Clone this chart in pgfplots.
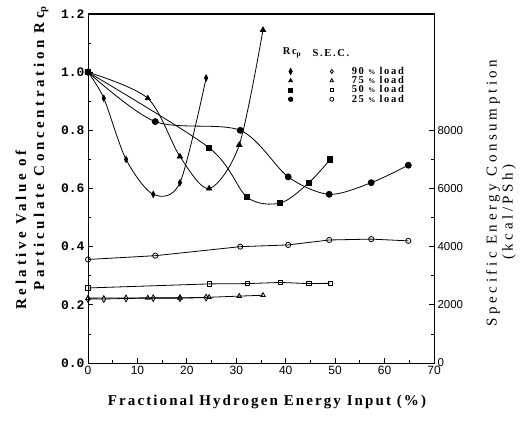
\documentclass[border=0pt]{standalone}
\usepackage{fontspec}
\setmainfont{Liberation Serif}
\usepackage{pgfplots}
\pgfplotsset{compat=1.18}
\newfontfamily\labfont[LetterSpace=14]{Liberation Serif}
\newfontfamily\labfontb[LetterSpace=24]{Liberation Serif}
\newfontfamily\legfont[LetterSpace=16]{Liberation Serif}
\newfontfamily\tickfont{Liberation Sans}
\newfontfamily\monofont{Liberation Mono}

\begin{document}
\begin{tikzpicture}
\useasboundingbox (0pt,0pt) rectangle (526pt,421pt);
\begin{axis}[
  at={(88pt,58pt)}, anchor=south west,
  width=346pt, height=349pt, scale only axis,
  axis lines=box,
  xmin=0, xmax=70, ymin=0, ymax=1.2,
  xtick={0,10,...,70}, minor xtick={5,15,...,65},
  ytick={0,0.2,...,1.2}, minor ytick={0.1,0.3,...,1.1},
  xtick pos=bottom, ytick pos=left,
  tick align=inside, major tick length=5pt, minor tick length=3pt,
  axis line style={line width=1pt}, every tick/.style={line width=0.8pt,black},
  /pgf/number format/assume math mode=true,
  yticklabel style={font=\monofont\bfseries\fontsize{13}{13}\selectfont,
    /pgf/number format/fixed, /pgf/number format/fixed zerofill, /pgf/number format/precision=1},
  xticklabel style={font=\tickfont\fontsize{12}{12}\selectfont},
  every axis plot/.append style={black, line width=0.8pt},
  clip=false,
]
\draw[line width=1.2pt] (axis cs:0,1.2) -- (axis cs:70,1.2);
% Rc_p curves (filled markers)
\addplot[smooth, mark=diamond*, mark options={scale=1.1,yscale=1.4}] coordinates {
 (0,1.0) (3.2,0.91) (7.7,0.70) (13.2,0.58) (18.6,0.62) (23.9,0.98)};
\addplot[smooth, mark=triangle*, mark size=3pt] coordinates {
 (0,1.0) (12.1,0.91) (18.6,0.71) (24.5,0.60) (30.6,0.75) (35.4,1.145)};
\addplot[smooth, mark=square*, mark size=2.6pt] coordinates {
 (0,1.0) (24.5,0.74) (32.2,0.57) (38.9,0.55) (44.7,0.62) (49.0,0.70)};
\addplot[smooth, mark=*, mark size=3pt] coordinates {
 (0,1.0) (13.6,0.83) (30.8,0.80) (40.5,0.64) (48.8,0.58) (57.3,0.62) (64.8,0.68)};
\end{axis}
\begin{axis}[
  at={(88pt,58pt)}, anchor=south west,
  width=346pt, height=349pt, scale only axis,
  xmin=0, xmax=70, ymin=0, ymax=12000,
  axis x line*=top, xtick=\empty, axis y line*=right,
  ytick={0,2000,...,8000}, minor ytick={1000,3000,5000,7000},
  scaled y ticks=false,
  tick align=inside, major tick length=5pt, minor tick length=3pt,
  axis line style={line width=1pt}, every tick/.style={line width=0.8pt,black},
  /pgf/number format/assume math mode=true,
  /pgf/number format/set thousands separator={},
  yticklabel style={font=\tickfont\fontsize{11.5}{11.5}\selectfont},
  every axis plot/.append style={black, line width=0.8pt},
  legend columns=2,
  legend style={draw=none, fill=none, at={(0.57,0.86)}, anchor=north west,
    font=\legfont\bfseries\fontsize{10.5}{10.5}\selectfont, row sep=-3.5pt,
    /tikz/every odd column/.append style={column sep=16pt},
    /tikz/every even column/.append style={column sep=17pt}},
  legend cell align=left,
  clip=false,
]
% S.E.C. (open markers)
\addplot[forget plot, mark=diamond, mark options={fill=white,yscale=1.3}, mark size=2.6pt] coordinates {
 (0,2200) (3.2,2200) (7.7,2220) (13.2,2230) (18.6,2230) (23.9,2250)};
\addplot[forget plot, mark=triangle, mark options={fill=white}, mark size=2.6pt] coordinates {
 (0,2230) (12.1,2240) (18.6,2240) (24.5,2260) (30.6,2300) (35.4,2330)};
\addplot[forget plot, mark=square, mark options={fill=white}, mark size=2.2pt] coordinates {
 (0,2580) (24.5,2720) (32.2,2730) (38.9,2770) (44.7,2730) (49.0,2740)};
\addplot[forget plot, mark=o, mark options={fill=white}, mark size=2.6pt] coordinates {
 (0,3560) (13.6,3690) (30.8,4000) (40.5,4060) (48.8,4230) (57.3,4260) (64.8,4200)};
\addlegendimage{only marks, mark=diamond*, mark options={yscale=1.4}, mark size=2.2pt}
\addlegendentry{}
\addlegendimage{only marks, mark=diamond, mark size=2pt}
\addlegendentry{90 {\fontsize{7}{7}\selectfont\%} load}
\addlegendimage{only marks, mark=triangle*, mark size=2.2pt}
\addlegendentry{}
\addlegendimage{only marks, mark=triangle, mark size=2pt}
\addlegendentry{75 {\fontsize{7}{7}\selectfont\%} load}
\addlegendimage{only marks, mark=square*, mark size=2pt}
\addlegendentry{}
\addlegendimage{only marks, mark=square, mark size=1.8pt}
\addlegendentry{50 {\fontsize{7}{7}\selectfont\%} load}
\addlegendimage{only marks, mark=*, mark size=2.2pt}
\addlegendentry{}
\addlegendimage{only marks, mark=o, mark size=2pt}
\addlegendentry{25 {\fontsize{7}{7}\selectfont\%} load}
\end{axis}
\node[font=\legfont\bfseries\fontsize{10.5}{10.5}\selectfont] at (292pt,368pt) {Rc\textsubscript{p}};
\node[font=\legfont\bfseries\fontsize{10.5}{10.5}\selectfont] at (331pt,368pt) {S.E.C.};
\node[font=\labfont\bfseries\fontsize{15}{15}\selectfont] at (267pt,19pt) {Fractional Hydrogen Energy Input (\%)};
\node[rotate=90, font=\labfontb\bfseries\fontsize{15}{15}\selectfont] at (21pt,191pt) {Relative Value of};
\node[rotate=90, font=\labfontb\bfseries\fontsize{15}{15}\selectfont] at (41pt,273pt) {Particulate Concentration Rc\textsubscript{p}};
\node[rotate=90, font=\labfontb\fontsize{15}{15}\selectfont] at (493pt,228pt) {Specific Energy Consumption};
\node[rotate=90, font=\labfontb\fontsize{15}{15}\selectfont] at (509pt,209pt) {(kcal/PSh)};
\end{tikzpicture}
\end{document}
